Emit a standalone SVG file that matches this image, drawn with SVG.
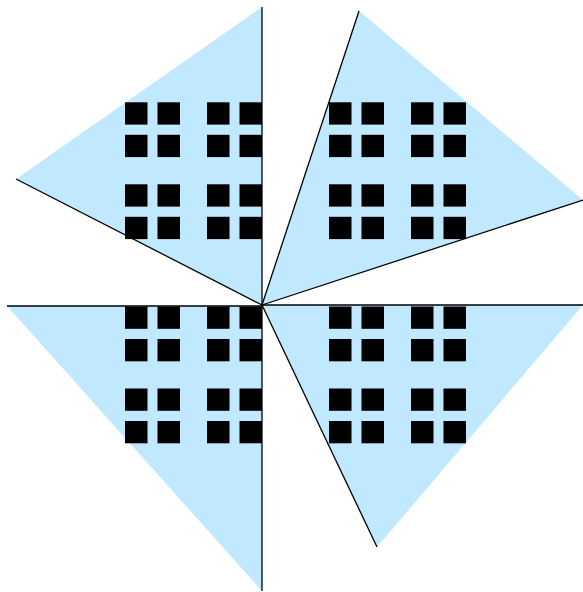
<svg xmlns="http://www.w3.org/2000/svg" xmlns:xlink="http://www.w3.org/1999/xlink" width="583" height="592" viewBox="0 0 583 592">
<style>
.tri{fill:#c0e8ff;stroke:none}
.edge{fill:none;stroke:#000;stroke-width:1.3}
.sq{fill:#000}
</style>
<defs>
<rect id="s" class="sq" width="22.5" height="22.3"/>
<g id="block">
<use xlink:href="#s" x="0" y="0"/><use xlink:href="#s" x="32.5" y="0"/>
<use xlink:href="#s" x="82" y="0"/><use xlink:href="#s" x="114.5" y="0"/>
<use xlink:href="#s" x="0" y="32.5"/><use xlink:href="#s" x="32.5" y="32.5"/>
<use xlink:href="#s" x="82" y="32.5"/><use xlink:href="#s" x="114.5" y="32.5"/>
<use xlink:href="#s" x="0" y="82"/><use xlink:href="#s" x="32.5" y="82"/>
<use xlink:href="#s" x="82" y="82"/><use xlink:href="#s" x="114.5" y="82"/>
<use xlink:href="#s" x="0" y="114.5"/><use xlink:href="#s" x="32.5" y="114.5"/>
<use xlink:href="#s" x="82" y="114.5"/><use xlink:href="#s" x="114.5" y="114.5"/>
</g>
</defs>
<g id="triangles">
<polygon class="tri" points="262,305 262,7 16,179"/>
<polygon class="tri" points="262,305 359,11 583,200"/>
<polygon class="tri" points="262,306 7,306 262,591"/>
<polygon class="tri" points="262,305 583,305 377,547"/>
</g>
<g id="edges">
<line class="edge" x1="262" y1="7" x2="262" y2="305"/>
<line class="edge" x1="16" y1="179" x2="262" y2="305"/>
<line class="edge" x1="262" y1="305" x2="359" y2="11"/>
<line class="edge" x1="262" y1="305" x2="583" y2="200"/>
<line class="edge" x1="7" y1="306" x2="262" y2="306"/>
<line class="edge" x1="262" y1="306" x2="262" y2="591"/>
<line class="edge" x1="262" y1="305" x2="583" y2="305"/>
<line class="edge" x1="262" y1="305" x2="377" y2="547"/>
</g>
<g id="squares">
<use xlink:href="#block" x="125" y="102.3"/>
<use xlink:href="#block" x="329" y="102.3"/>
<use xlink:href="#block" x="125" y="306.5"/>
<use xlink:href="#block" x="329" y="306.5"/>
</g>
</svg>
